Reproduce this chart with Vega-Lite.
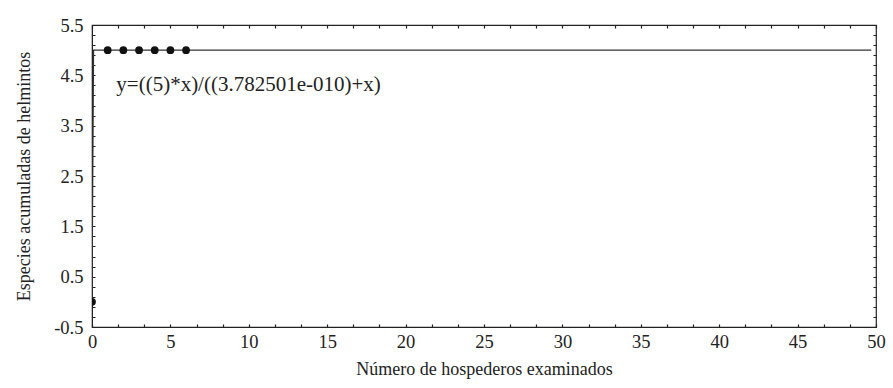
{
  "$schema": "https://vega.github.io/schema/vega-lite/v6.json",
  "width": 784,
  "height": 302,
  "autosize": "none",
  "padding": {"left": 92, "top": 25, "right": 16, "bottom": 61},
  "background": "white",
  "config": {
    "view": {"stroke": "#222", "strokeWidth": 1.2},
    "font": "Liberation Serif",
    "axis": {
      "labelFont": "Liberation Serif",
      "titleFont": "Liberation Serif",
      "labelFontSize": 18.5,
      "titleFontSize": 18,
      "titleFontWeight": "normal",
      "labelColor": "#222",
      "titleColor": "#222",
      "domainColor": "#222",
      "labelOverlap": false,
      "labelFlush": false,
      "tickCount": 100,
      "ticks": false,
      "grid": true,
      "gridColor": "#222",
      "gridOpacity": 1,
      "gridWidth": 1.2
    }
  },
  "datasets": {
    "curve": [
      {"x": 0, "y": 0},
      {"x": 0.1, "y": 5},
      {"x": 10, "y": 5},
      {"x": 20, "y": 5},
      {"x": 30, "y": 5},
      {"x": 40, "y": 5},
      {"x": 49.7, "y": 5}
    ],
    "obs": [
      {"x": 0, "y": 0},
      {"x": 1, "y": 5},
      {"x": 2, "y": 5},
      {"x": 3, "y": 5},
      {"x": 4, "y": 5},
      {"x": 5, "y": 5},
      {"x": 6, "y": 5}
    ],
    "eq": [
      {"x": 1.55, "y": 4.3, "label": "y=((5)*x)/((3.782501e-010)+x)"}
    ]
  },
  "layer": [
    {
      "data": {"name": "curve"},
      "mark": {"type": "line", "color": "#333", "strokeWidth": 1.2, "clip": true},
      "encoding": {
        "x": {
          "field": "x", "type": "quantitative",
          "scale": {"domain": [0, 50], "nice": false, "zero": false},
          "axis": {
            "orient": "bottom",
            "tickCount": 100,
            "values": [0, 1.6667, 3.3333, 5, 6.6667, 8.3333, 10, 11.6667, 13.3333, 15, 16.6667, 18.3333, 20, 21.6667, 23.3333, 25, 26.6667, 28.3333, 30, 31.6667, 33.3333, 35, 36.6667, 38.3333, 40, 41.6667, 43.3333, 45, 46.6667, 48.3333, 50],
            "labelExpr": "abs(datum.value - round(datum.value / 5) * 5) < 0.01 ? format(datum.value, 'd') : ''",
            "gridDash": [3, 296, 3, 1000],
            "labelPadding": 5,
            "title": "Número de hospederos examinados",
            "titlePadding": 10
          }
        },
        "y": {
          "field": "y", "type": "quantitative",
          "scale": {"domain": [-0.5, 5.5], "nice": false, "zero": false},
          "axis": {
            "orient": "left",
            "tickCount": 100,
            "values": [-0.5, -0.3, -0.1, 0.1, 0.3, 0.5, 0.7, 0.9, 1.1, 1.3, 1.5, 1.7, 1.9, 2.1, 2.3, 2.5, 2.7, 2.9, 3.1, 3.3, 3.5, 3.7, 3.9, 4.1, 4.3, 4.5, 4.7, 4.9, 5.1, 5.3, 5.5],
            "labelExpr": "abs(datum.value + 0.5 - round(datum.value + 0.5)) < 0.01 ? replace(format(datum.value, '.1f'), '−', '-') : ''",
            "gridDash": [3, 778, 3, 1000],
            "labelPadding": 9,
            "title": "Especies acumuladas de helmintos",
            "titlePadding": 20
          }
        }
      }
    },
    {
      "data": {"name": "obs"},
      "mark": {"type": "point", "filled": true, "color": "#111", "opacity": 1, "size": 60, "clip": true},
      "encoding": {
        "x": {"field": "x", "type": "quantitative"},
        "y": {"field": "y", "type": "quantitative"}
      }
    },
    {
      "data": {"name": "eq"},
      "mark": {"type": "text", "align": "left", "baseline": "middle", "fontSize": 21, "font": "Liberation Serif", "color": "#222"},
      "encoding": {
        "x": {"field": "x", "type": "quantitative"},
        "y": {"field": "y", "type": "quantitative"},
        "text": {"field": "label", "type": "nominal"}
      }
    }
  ]
}
